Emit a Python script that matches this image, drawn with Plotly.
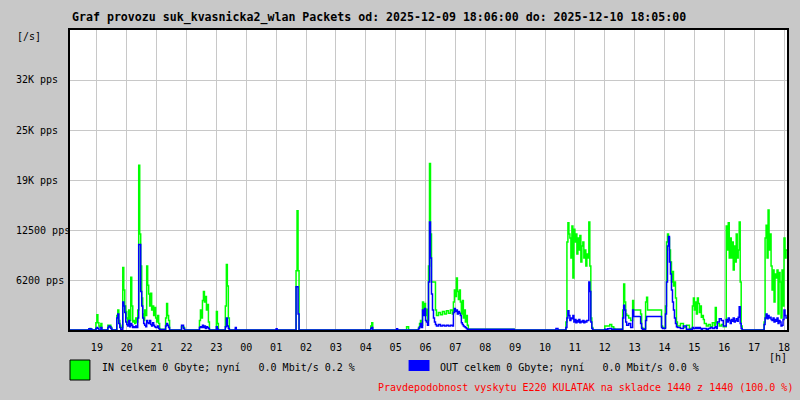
import plotly.graph_objects as go
import pandas as pd

# minutes since 2025-12-09 18:06, IN / OUT packets per second
minutes = [
    0, 38, 40, 42, 44, 52, 54, 56, 58, 60, 62, 64, 76, 78, 80, 82, 84,
    94, 96, 98, 100, 102, 106, 108, 110, 112, 114, 116, 118, 120, 122, 124, 126,
    128, 130, 132, 134, 136, 138, 140, 142, 144, 146, 148, 150, 152, 154, 156,
    158, 160, 162, 164, 166, 168, 170, 172, 174, 176, 178, 180, 190,
    192, 194, 196, 198, 200, 224, 226, 228, 230,
    260, 262, 264, 266, 268, 270, 272, 274, 276, 278, 280,
    294, 296, 298, 312, 314, 316, 318, 320, 332, 334, 414, 416,
    454, 456, 458, 460, 604, 606, 608, 656, 658, 676, 680,
    700, 702, 704, 706, 708, 710, 712, 714, 716, 718,
    720, 722, 724, 726, 728, 730, 732, 734, 736, 740, 744, 748, 752, 756, 760, 764, 768,
    770, 772, 774, 776, 778, 780, 782, 784, 786, 788, 790, 792, 794, 796, 798,
    800, 892, 976, 980,
    996, 998, 1000, 1002, 1004, 1006, 1008, 1010, 1012, 1014, 1016, 1018, 1020,
    1022, 1024, 1026, 1028, 1030, 1032, 1034, 1036, 1038, 1040, 1042, 1044, 1046, 1048, 1050,
    1074, 1080, 1084, 1088, 1092, 1094,
    1110, 1112, 1114, 1116, 1118, 1122, 1126, 1130, 1132, 1146, 1148, 1150,
    1156, 1158, 1160, 1186, 1188, 1190,
    1196, 1198, 1200, 1202, 1204, 1206, 1208, 1210, 1212, 1214, 1216, 1218,
    1220, 1226, 1232, 1238, 1244,
    1250, 1252, 1254, 1256, 1258, 1260, 1262, 1264, 1266, 1268, 1270, 1272,
    1274, 1278, 1282, 1286, 1290, 1294, 1296, 1298, 1300, 1304, 1308, 1312,
    1318, 1320, 1322, 1324, 1326, 1328, 1330, 1332, 1334, 1336, 1338, 1340, 1342, 1344, 1346, 1348, 1350,
    1394, 1396, 1398, 1400, 1402, 1404, 1406, 1408, 1410, 1412, 1414, 1416, 1418, 1420,
    1422, 1424, 1426, 1428, 1430, 1432, 1434, 1436, 1438, 1440,
]
in_pps = [
    0, 100, 200, 100, 0, 900, 1900, 900, 500, 300, 800, 0, 600, 400, 600, 300, 0,
    1800, 2500, 1200, 600, 300, 7800, 5000, 3000, 2300, 1500, 900, 2500, 1200, 6600, 3000, 1000,
    1200, 800, 1500, 1000, 2500, 20600, 12000, 8000, 4000, 2000, 1200, 2500, 1800, 8000, 5600,
    4500, 3000, 4600, 2500, 3000, 1800, 2800, 1500, 1000, 1800, 800, 100, 0,
    1500, 3300, 1800, 1200, 0, 400, 400, 300, 0,
    1200, 2500, 1500, 3700, 4800, 3500, 4200, 2500, 3200, 1000, 0,
    2300, 800, 0, 3000, 8200, 5500, 1500, 0, 100, 0, 0, 0,
    7400, 14900, 7400, 0, 500, 900, 0, 0, 0, 400, 0,
    300, 800, 1200, 600, 3500, 2500, 3300, 1800, 2600, 1200,
    8000, 20800, 12000, 6000, 6000, 6000, 6000, 2500, 1800, 2200, 1900, 2300, 2000, 2400, 2100, 2500, 2000,
    3500, 5000, 4200, 6500, 4800, 3800, 5000, 3500, 2000, 3700, 1500, 2500, 1000, 1800, 600,
    100, 0, 0, 0,
    1000, 11000, 13400, 12000, 11500, 9000, 13000, 6500, 12600, 11000, 12000, 9500, 11500,
    10000, 11800, 8500, 10500, 11000, 9000, 10000, 8000, 9500, 9000, 13500, 8000, 1500, 300, 0,
    500, 500, 700, 400, 200, 100,
    2500, 5750, 3500, 2000, 1800, 1500, 1200, 3700, 2500, 2000, 300, 200,
    3500, 4100, 2500, 2500, 500, 300,
    3000, 11000, 12000, 11500, 10000, 8500, 6000, 7300, 5500, 6000, 4000, 1000,
    500, 800, 300, 600, 200,
    3000, 4000, 2500, 3500, 2000, 4000, 3300, 2200, 3000, 1600, 1800, 1300,
    800, 500, 700, 400, 900, 600, 2800, 1000, 800, 500, 700, 400,
    13000, 10000, 13400, 9000, 11500, 9000, 11000, 7500, 10500, 8500, 12000, 9000, 10000, 13500, 6000, 500, 0,
    1000, 11500, 13100, 9000, 15000, 10000, 12000, 8000, 5000, 7500, 3500, 7000, 6500, 7500,
    2000, 7200, 6000, 1500, 7500, 3000, 11500, 9000, 10000, 10000,
]
out_pps = [
    0, 150, 150, 100, 0, 200, 300, 200, 0, 0, 300, 0, 300, 500, 400, 200, 0,
    1500, 2000, 800, 300, 100, 3500, 3000, 2200, 1000, 700, 500, 1200, 400, 800, 600, 300,
    400, 300, 500, 300, 1500, 10700, 10700, 4800, 3000, 1500, 800, 600, 400, 1200, 900,
    800, 1200, 700, 500, 900, 600, 400, 300, 300, 500, 200, 50, 0,
    500, 800, 600, 300, 0, 600, 600, 200, 0,
    300, 400, 300, 600, 300, 500, 200, 400, 300, 200, 0,
    400, 100, 0, 400, 1500, 500, 200, 0, 300, 0, 150, 0,
    5400, 5400, 2000, 0, 200, 300, 0, 150, 0, 0, 0,
    200, 400, 800, 300, 2500, 1800, 2700, 1200, 1000, 600,
    6000, 13500, 9000, 4500, 2500, 1500, 1000, 700, 500, 700, 500, 600, 500, 600, 500, 600, 500,
    2200, 2700, 2300, 2500, 2000, 2300, 2100, 1800, 900, 700, 500, 400, 300, 200, 100,
    100, 0, 200, 0,
    300, 1500, 2400, 1800, 1200, 1500, 1400, 1800, 1000, 1300, 900, 1200, 1000,
    1300, 900, 1100, 1000, 1200, 900, 1100, 1000, 1200, 1200, 6000, 4800, 1000, 200, 0,
    100, 150, 200, 100, 100, 100,
    1500, 3100, 2500, 1000, 600, 800, 300, 2500, 1700, 800, 200, 100,
    1200, 1700, 1700, 1700, 300, 200,
    2000, 6000, 10500, 11700, 8500, 7000, 5000, 3500, 2500, 1500, 800, 400,
    300, 200, 500, 100, 100,
    300, 200, 200, 300, 200, 300, 200, 300, 200, 100, 200, 200,
    200, 100, 200, 300, 200, 300, 400, 200, 1000, 1400, 1200, 500,
    1300, 1000, 1500, 1200, 800, 1300, 1100, 1500, 1000, 1200, 1400, 1100, 1600, 2900, 800, 200, 0,
    700, 1500, 2000, 1400, 1800, 1500, 1600, 1300, 1200, 1500, 1000, 1300, 1100, 1500,
    800, 1200, 1000, 500, 600, 1300, 2500, 1800, 1500, 1500,
]

y_ticks = [6250, 12500, 18750, 25000, 31250]
y_labels = ["6200 pps", "12500 pps", "19K pps", "25K pps", "32K pps"]

title = "Graf provozu suk_kvasnicka2_wlan Packets od: 2025-12-09 18:06:00 do: 2025-12-10 18:05:00"
in_text = "IN celkem 0 Gbyte; nyní   0.0 Mbit/s 0.2 %"
out_text = "OUT celkem 0 Gbyte; nyní   0.0 Mbit/s 0.0 %"
note_text = "Pravdepodobnost vyskytu E220 KULATAK na skladce 1440 z 1440 (100.0 %)"

start = pd.Timestamp("2025-12-09 18:06:00")
times = [start + pd.Timedelta(minutes=m) for m in minutes]

FONT = "DejaVu Sans Mono"
BG = "#c8c8c8"
W, H = 800, 400
L, R, T, B = 70, 10, 30, 70


def px(x):
    return (x - L) / (W - L - R)


def py(y):
    return (H - B - y) / (H - T - B)


fig = go.Figure()
fig.add_trace(go.Scatter(x=times, y=in_pps, mode="lines", line=dict(color="#00ff00", width=1.5, shape="hv")))
fig.add_trace(go.Scatter(x=times, y=out_pps, mode="lines", line=dict(color="#0000ff", width=1.5, shape="hv")))

ann = [
    dict(x=px(70), y=py(18), text="<b>" + title + "</b>", font=dict(size=11.6)),
    dict(x=px(15), y=py(37), text="[/s]"),
    dict(x=px(770), y=py(357), text="[h]"),
    dict(x=px(100), y=py(367), text=in_text.replace(" ", "\u00a0")),
    dict(x=px(440), y=py(367), text=out_text.replace(" ", "\u00a0")),
    dict(x=px(377), y=py(387), text=note_text, font=dict(color="#ff0000")),
]
for v, t in zip(y_ticks, y_labels):
    ann.append(dict(x=px(14), y=v / 37500, text=t))
for a in ann:
    a.update(xref="paper", yref="paper", xanchor="left", yanchor="middle", showarrow=False)
    a.setdefault("font", {})
    a["font"].setdefault("size", 10)
    a["font"].setdefault("color", "black")
    a["font"]["family"] = FONT

fig.update_layout(
    width=W, height=H,
    margin=dict(l=L, r=R, t=T, b=B),
    paper_bgcolor=BG, plot_bgcolor="white",
    showlegend=False,
    font=dict(family=FONT, size=10, color="black"),
    annotations=ann,
    shapes=[
        dict(type="rect", xref="paper", yref="paper", x0=px(70), x1=px(90), y0=py(380), y1=py(360),
             fillcolor="#00ff00", line=dict(color="black", width=1)),
        dict(type="rect", xref="paper", yref="paper", x0=px(410), x1=px(431), y0=py(371), y1=py(360),
             fillcolor="#0000ff", line=dict(width=0)),
    ],
)
fig.update_xaxes(
    type="date",
    range=[start, start + pd.Timedelta(minutes=1440)],
    dtick=3600000, tick0="2025-12-09 19:00:00", tickformat="%H",
    ticks="outside", ticklen=7, tickcolor="rgba(0,0,0,0)",
    showgrid=True, gridcolor="#c8c8c8", gridwidth=1,
    showline=True, linecolor="black", linewidth=2, mirror=True,
    zeroline=False,
)
fig.update_yaxes(
    range=[0, 37500],
    tickvals=y_ticks, showticklabels=False,
    showgrid=True, gridcolor="#c8c8c8", gridwidth=1,
    showline=True, linecolor="black", linewidth=2, mirror=True,
    zeroline=False,
)

fig.write_html("out.html", config={"displayModeBar": False},
               post_script="document.body.style.margin='0';")
